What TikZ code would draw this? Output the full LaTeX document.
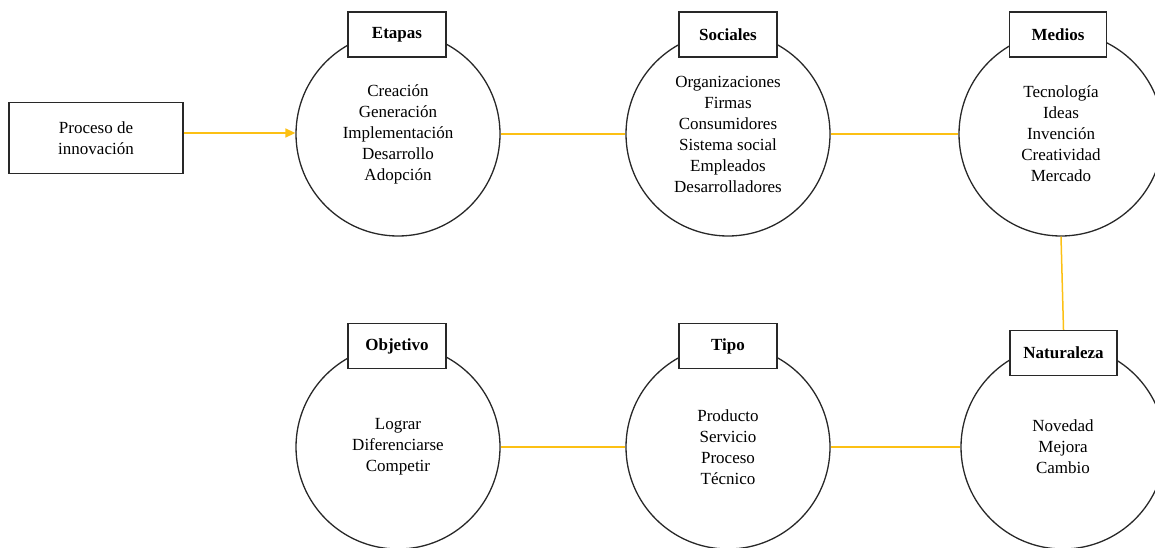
\documentclass[tikz,border=0pt]{standalone}
\usepackage{fontspec}
\setmainfont{Liberation Serif}
\usetikzlibrary{arrows.meta}
\definecolor{gold}{RGB}{252,192,20}
\definecolor{edge}{RGB}{40,40,40}
\tikzset{
  txt/.style={font=\fontsize{17}{21}\selectfont, align=center},
  ring/.style={circle, draw=edge, line width=1.3pt, minimum size=204pt, inner sep=0pt, txt},
  tag/.style={rectangle, draw=edge, fill=white, line width=1.3pt, minimum height=45pt, inner sep=0pt, font=\fontsize{17}{21}\selectfont\bfseries},
  link/.style={draw=gold, line width=1.5pt},
}
\begin{document}
\begin{tikzpicture}[x=1pt,y=-1pt]
\useasboundingbox (0,0) rectangle (1155,548);
% process box
\node[rectangle, draw=edge, line width=1.3pt, minimum width=174pt, minimum height=71pt, inner sep=0pt, txt] (proc) at (96,138) {Proceso de\\innovación};
% circles
\node[ring] (etapas) at (398,134) {Creación\\Generación\\Implementación\\Desarrollo\\Adopción};
\node[ring] (sociales) at (728,134) {Organizaciones\\Firmas\\Consumidores\\Sistema social\\Empleados\\Desarrolladores};
\node[ring] (medios) at (1061,134) {Tecnología\\Ideas\\Invención\\Creatividad\\Mercado};
\node[ring] (objetivo) at (398,447) {Lograr\\Diferenciarse\\Competir};
\node[ring] (tipo) at (728,447) {Producto\\Servicio\\Proceso\\Técnico};
\node[ring] (naturaleza) at (1063,447) {Novedad\\Mejora\\Cambio};
% tags
\node[tag, minimum width=98pt] (tEtapas) at (397,34.5) {Etapas};
\node[tag, minimum width=98pt] (tSociales) at (728,34.5) {Sociales};
\node[tag, minimum width=97pt] (tMedios) at (1058,34.5) {Medios};
\node[tag, minimum width=98pt] (tObjetivo) at (397,346) {Objetivo};
\node[tag, minimum width=98pt] (tTipo) at (728,346) {Tipo};
\node[tag, minimum width=107pt] (tNaturaleza) at (1063.5,353) {Naturaleza};
% connectors
\draw[link, -{Triangle[length=10pt,width=9pt]}] (proc.east |- 0,133) -- (etapas.west |- 0,133);
\draw[link] (etapas.east) -- (sociales.west);
\draw[link] (sociales.east) -- (medios.west);
\draw[link] (medios.south) -- (tNaturaleza.north);
\draw[link] (objetivo.east) -- (tipo.west);
\draw[link] (tipo.east) -- (naturaleza.west);
\end{tikzpicture}
\end{document}
